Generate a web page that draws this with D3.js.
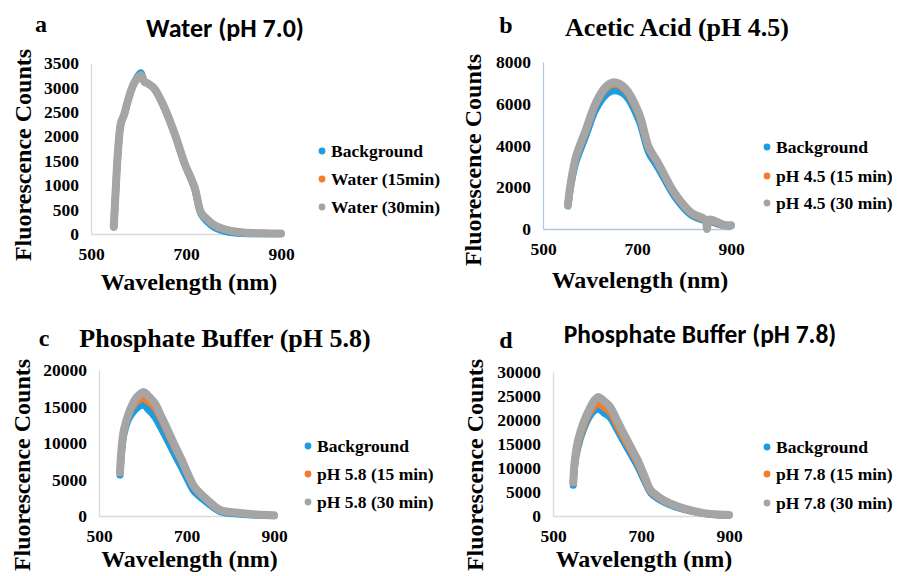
<!DOCTYPE html>
<meta charset="utf-8">
<head>
	<title>Fluorescence spectra</title>
</head>

<style>
	body { margin: 0; background: #fff; }
</style>

<body>
	<svg width="898" height="576"></svg>

	<script src="https://d3js.org/d3.v7.min.js"></script>
	<script>
// series colours (Excel style)
var colors = ['#1c9ddf', '#f47b2a', '#a5a5a5'];

// panel a: water
var wlA = [548, 552, 557, 563, 570, 578, 591, 605, 612, 620, 633, 654, 676, 697, 718, 732, 745, 760, 788, 820, 860, 900];
var bgA = [140, 880, 1700, 2260, 2450, 2740, 3100, 3300, 3130, 3080, 2980, 2590, 2040, 1430, 930, 400, 250, 130, 40, 10, 5, 5];
var w15A = [150, 900, 1720, 2270, 2450, 2740, 3090, 3250, 3120, 3080, 2980, 2600, 2060, 1450, 960, 430, 300, 180, 80, 30, 15, 10];
var w30A = [150, 900, 1720, 2270, 2450, 2740, 3090, 3250, 3120, 3080, 2980, 2600, 2060, 1450, 960, 430, 300, 180, 80, 30, 15, 10];

// panel b: acetic acid
var wlB = [553, 559, 570, 591, 612, 633, 651, 675, 704, 725, 740, 753, 780, 816, 845, 849, 853, 886, 900];
var bgB = [1100, 2050, 3200, 4450, 5700, 6400, 6620, 6400, 5200, 3650, 3100, 2600, 1550, 650, 400, 390, 380, 160, 150];
var p15B = [1150, 2150, 3400, 4650, 5950, 6700, 6950, 6650, 5450, 3850, 3300, 2770, 1680, 740, 440, 430, 420, 185, 175];
var p30B = [1150, 2200, 3450, 4740, 6030, 6800, 7030, 6750, 5550, 3920, 3350, 2820, 1720, 770, 450, 0, 440, 190, 180];

// panel c: phosphate buffer pH 5.8
var wlC = [548, 552, 557, 568, 582, 592, 602, 612, 627, 642, 657, 673, 689, 703, 718, 733, 748, 777, 823, 860, 900];
var bgC = [5600, 9000, 11200, 13300, 14500, 15000, 15200, 14600, 13600, 12000, 10300, 8400, 6600, 4900, 3300, 2500, 1800, 600, 250, 100, 50];
var p15C = [5900, 9400, 11700, 13900, 15400, 15900, 16100, 15700, 14900, 13300, 11400, 9400, 7500, 5600, 3900, 2900, 2100, 780, 380, 180, 80];
var p30C = [6000, 9500, 11800, 14100, 15900, 16600, 17000, 16500, 15500, 13700, 11800, 9700, 7700, 5800, 4000, 3000, 2200, 820, 400, 200, 100];

// panel d: phosphate buffer pH 7.8
var wlD = [546, 550, 557, 569, 585, 595, 603, 615, 630, 645, 660, 676, 692, 707, 722, 737, 752, 775, 797, 843, 870, 900];
var bgD = [6400, 11000, 14400, 18000, 21000, 22000, 22300, 21500, 20500, 18100, 15600, 13000, 10400, 7500, 4800, 3700, 2900, 2000, 1400, 500, 250, 150];
var p15D = [7000, 11500, 15000, 18600, 21800, 23000, 23500, 22700, 21600, 19000, 16400, 13800, 11100, 8000, 5100, 4000, 3100, 2200, 1500, 550, 300, 200];
var p30D = [7000, 12000, 15800, 19400, 22700, 24200, 24800, 24000, 22700, 20000, 17300, 14500, 11700, 8500, 5400, 4200, 3300, 2300, 1600, 600, 350, 200];

var xTicks = [500, 700, 900];

var panels = [
	{letter: 'a', title: 'Water (pH 7.0)', sans: true, titleSize: 26, wl: wlA, series: [bgA, w15A, w30A],
	 names: ['Background', 'Water (15min)', 'Water (30min)'],
	 yMax: 3500, yStep: 500, x0: 91, x1: 281, y0: 234, y1: 63, axisColor: '#d9d9d9',
	 titleX: 225, titleY: 37, letterX: 41, letterY: 32, yTitleX: 31, yTitleY: 155, xTitleY: 290,
	 legX: 322, legY: [151, 179, 207]},
	{letter: 'b', title: 'Acetic Acid (pH 4.5)', sans: false, titleSize: 26, wl: wlB, series: [bgB, p15B, p30B],
	 names: ['Background', 'pH 4.5 (15 min)', 'pH 4.5 (30 min)'],
	 yMax: 8000, yStep: 2000, x0: 543, x1: 731, y0: 229, y1: 62, axisColor: '#b4c7e7',
	 titleX: 677, titleY: 36, letterX: 506, letterY: 33, yTitleX: 481, yTitleY: 160, xTitleY: 288,
	 legX: 767, legY: [147, 176, 203]},
	{letter: 'c', title: 'Phosphate Buffer (pH 5.8)', sans: false, titleSize: 26, wl: wlC, series: [bgC, p15C, p30C],
	 names: ['Background', 'pH 5.8 (15 min)', 'pH 5.8 (30 min)'],
	 yMax: 20000, yStep: 5000, x0: 99, x1: 274, y0: 516, y1: 370, axisColor: '#d9d9d9',
	 titleX: 225, titleY: 347, letterX: 44, letterY: 346, yTitleX: 30, yTitleY: 465, xTitleY: 567,
	 legX: 308, legY: [446, 474, 502]},
	{letter: 'd', title: 'Phosphate Buffer (pH 7.8)', sans: true, titleSize: 25.5, wl: wlD, series: [bgD, p15D, p30D],
	 names: ['Background', 'pH 7.8 (15 min)', 'pH 7.8 (30 min)'],
	 yMax: 30000, yStep: 5000, x0: 553, x1: 729, y0: 516, y1: 372, axisColor: '#d9d9d9',
	 titleX: 700, titleY: 343, letterX: 506, letterY: 348, yTitleX: 483, yTitleY: 465, xTitleY: 567,
	 legX: 767, legY: [447, 474, 503]}
];

var svg = d3.select('svg');

function font(sel, family, size) {
	return sel.attr('font-family', "'" + family + "'")
		.attr('font-weight', 'bold')
		.attr('font-size', size)
		.attr('fill', '#000');
}

panels.forEach(function(p) {
	var g = svg.append('g');
	var x = d3.scaleLinear().domain([500, 900]).range([p.x0, p.x1]);
	var y = d3.scaleLinear().domain([0, p.yMax]).range([p.y0, p.y1]);

	// axes
	var yAxis = d3.axisLeft(y).tickValues(d3.range(0, p.yMax + 1, p.yStep))
		.tickFormat(d3.format('d')).tickSize(0).tickPadding(12);
	var xAxis = d3.axisBottom(x).tickValues(xTicks).tickFormat(d3.format('d')).tickSize(0).tickPadding(14);

	var ya = g.append('g').attr('transform', 'translate(' + p.x0 + ',0)').call(yAxis);
	var xa = g.append('g').attr('transform', 'translate(0,' + p.y0 + ')').call(xAxis);
	[ya, xa].forEach(function(a) {
		a.attr('font-family', null).attr('font-size', null);
		a.select('.domain').attr('stroke', p.axisColor).attr('stroke-width', 1.3);
		font(a.selectAll('text'), 'Liberation Serif', 17.5);
	});

	// curves: dense markers drawn as a thick band
	var line = d3.line()
		.x(function(d, i) { return x(p.wl[i]); })
		.y(function(d) { return y(d); })
		.curve(d3.curveCatmullRom);

	p.series.forEach(function(s, i) {
		g.append('path')
			.attr('d', line(s))
			.attr('fill', 'none')
			.attr('stroke', colors[i])
			.attr('stroke-width', i === 2 ? 8 : 7)
			.attr('stroke-linejoin', 'round')
			.attr('stroke-linecap', 'round');
	});

	// titles
	font(g.append('text'), p.sans ? 'Carlito' : 'Liberation Serif', p.titleSize)
		.attr('x', p.titleX).attr('y', p.titleY)
		.attr('text-anchor', 'middle')
		.text(p.title);

	font(g.append('text'), 'Liberation Serif', 24)
		.attr('x', p.letterX).attr('y', p.letterY)
		.attr('text-anchor', 'middle')
		.text(p.letter);

	font(g.append('text'), 'Liberation Serif', 24)
		.attr('transform', 'translate(' + p.yTitleX + ',' + p.yTitleY + ') rotate(-90)')
		.attr('text-anchor', 'middle')
		.text('Fluorescence Counts');

	font(g.append('text'), 'Liberation Serif', 24)
		.attr('x', (p.x0 + p.x1) / 2 + 3).attr('y', p.xTitleY)
		.attr('text-anchor', 'middle')
		.text('Wavelength (nm)');

	// legend
	p.names.forEach(function(n, i) {
		g.append('circle')
			.attr('cx', p.legX).attr('cy', p.legY[i])
			.attr('r', 3.4)
			.attr('fill', colors[i]);
		font(g.append('text'), 'Liberation Serif', 17.5)
			.attr('x', p.legX + 9).attr('y', p.legY[i] + 6)
			.text(n);
	});
});
	</script>
</body>
</html>
